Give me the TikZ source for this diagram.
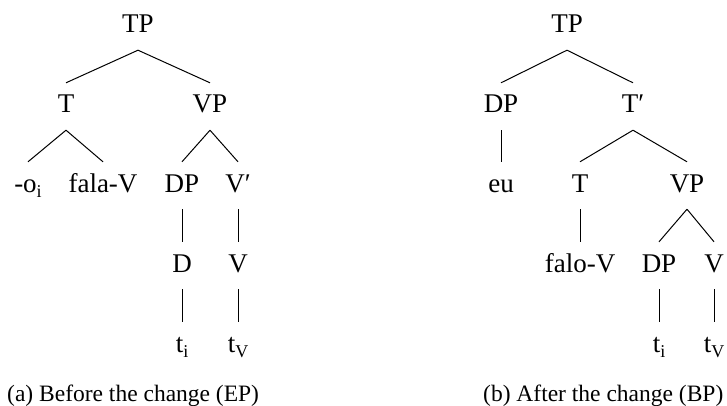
\documentclass[tikz,border=0pt]{standalone}
\usepackage{fontspec}
\setmainfont{Liberation Serif}
\newcommand\sbs[1]{\raisebox{-5pt}{\fontsize{18}{18}\selectfont #1}}
\begin{document}
\begin{tikzpicture}[x=1pt,y=-1pt,
  lbl/.style={anchor=base,inner xsep=0pt,inner ysep=11pt,text height=19pt,text depth=6pt,font=\fontsize{27}{30}\selectfont},
  captext/.style={anchor=base west,inner sep=0pt,font=\fontsize{23.5}{28}\selectfont},
  br/.style={line width=1pt}]
\useasboundingbox (0,0) rectangle (727,406);
% left tree
\node[lbl] (a-tp) at (138,33) {TP};
\node[lbl] (a-t) at (66,113) {T};
\node[lbl] (a-vp) at (210,113) {VP};
\node[lbl] (a-o) at (28,192) {-o\sbs{i}};
\node[lbl] (a-fala) at (103,192) {fala-V};
\node[lbl] (a-dp) at (182,192) {DP};
\node[lbl] (a-vb) at (238,192) {V′};
\node[lbl] (a-d) at (182,272) {D};
\node[lbl] (a-v) at (238,272) {V};
\node[lbl] (a-ti) at (182,352) {t\sbs{i}};
\node[lbl] (a-tv) at (238,352) {t\sbs{V}};
\draw[br] (a-tp.south) -- (a-t.north);
\draw[br] (a-tp.south) -- (a-vp.north);
\draw[br] (a-t.south) -- (a-o.north);
\draw[br] (a-t.south) -- (a-fala.north);
\draw[br] (a-vp.south) -- (a-dp.north);
\draw[br] (a-vp.south) -- (a-vb.north);
\draw[br] (a-dp.south) -- (a-d.north);
\draw[br] (a-vb.south) -- (a-v.north);
\draw[br] (a-d.south) -- (a-ti.north);
\draw[br] (a-v.south) -- (a-tv.north);
\node[captext] (capa) at (7,401) {(a) Before the change (EP)};
% right tree
\node[lbl] (b-tp) at (567,33) {TP};
\node[lbl] (b-dp) at (501,113) {DP};
\node[lbl] (b-tb) at (633,113) {T′};
\node[lbl] (b-eu) at (501,192) {eu};
\node[lbl] (b-t) at (580,192) {T};
\node[lbl] (b-vp) at (687,192) {VP};
\node[lbl] (b-falo) at (580,272) {falo-V};
\node[lbl] (b-dp2) at (659,272) {DP};
\node[lbl] (b-v) at (714,272) {V};
\node[lbl] (b-ti) at (659,352) {t\sbs{i}};
\node[lbl] (b-tv) at (714,352) {t\sbs{V}};
\draw[br] (b-tp.south) -- (b-dp.north);
\draw[br] (b-tp.south) -- (b-tb.north);
\draw[br] (b-dp.south) -- (b-eu.north);
\draw[br] (b-tb.south) -- (b-t.north);
\draw[br] (b-tb.south) -- (b-vp.north);
\draw[br] (b-t.south) -- (b-falo.north);
\draw[br] (b-vp.south) -- (b-dp2.north);
\draw[br] (b-vp.south) -- (b-v.north);
\draw[br] (b-dp2.south) -- (b-ti.north);
\draw[br] (b-v.south) -- (b-tv.north);
\node[captext] (capb) at (483,401) {(b) After the change (BP)};
\end{tikzpicture}
\end{document}
